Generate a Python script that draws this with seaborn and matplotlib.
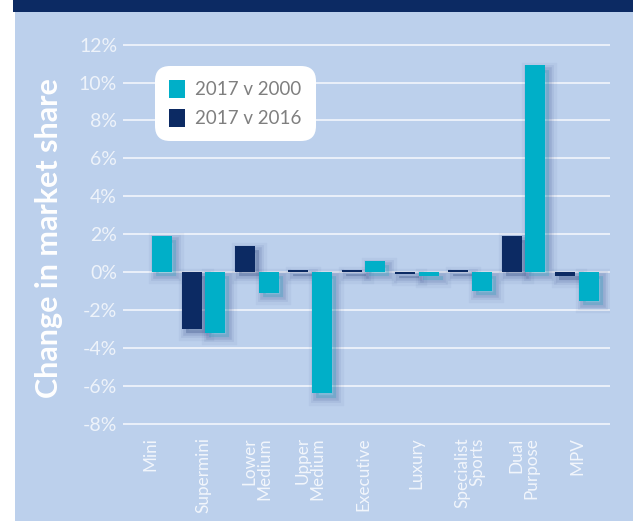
import numpy as np
import pandas as pd
import matplotlib
matplotlib.use("Agg")
import matplotlib.pyplot as plt
import matplotlib.patheffects as pe
from matplotlib.patches import Rectangle, Patch
import seaborn as sns

# data (% change in market share)
segments = ["Mini", "Supermini", "Lower\nMedium", "Upper\nMedium", "Executive",
            "Luxury", "Specialist\nSports", "Dual\nPurpose", "MPV"]
vs_2016 = [np.nan, -3.0, 1.4, 0.1, 0.1, -0.1, 0.1, 1.9, -0.2]
vs_2000 = [1.9, -3.2, -1.1, -6.4, 0.6, -0.2, -1.0, 10.9, -1.5]
series = ["2017 v 2016", "2017 v 2000"]
y_ticks = [-8, -6, -4, -2, 0, 2, 4, 6, 8, 10, 12]

navy = "#0c2a63"
cyan = "#00afc8"
bg = "#bcd0ec"

df = pd.DataFrame({
    "segment": segments * 2,
    "series": [series[0]] * len(segments) + [series[1]] * len(segments),
    "value": vs_2016 + vs_2000,
})

sns.set_style("white")
plt.rcParams["font.family"] = ["Lato", "DejaVu Sans"]

fig = plt.figure(figsize=(6.33, 5.21), dpi=100)
fig.patch.set_facecolor("white")
# page background + top banner
fig.patches.append(Rectangle((15 / 633, 0), 1, 1, transform=fig.transFigure,
                             facecolor=bg, edgecolor="none", zorder=-10))
fig.patches.append(Rectangle((13 / 633, 1 - 12 / 521), 1, 12 / 521,
                             transform=fig.transFigure, facecolor=navy,
                             edgecolor="none", zorder=-9))

ax = fig.add_axes([123.4 / 633, 1 - 424.7 / 521, 486.6 / 633, 381 / 521])
ax.set_facecolor("none")

sns.barplot(data=df, x="segment", y="value", hue="series", hue_order=series,
            palette={series[0]: navy, series[1]: cyan}, width=0.88, gap=0.15,
            saturation=1, legend=False, ax=ax, zorder=3)

# soft drop shadow behind the bars
shadow = [
    pe.Stroke(linewidth=11, foreground="#2a3f80", alpha=0.05, offset=(3, -3)),
    pe.Stroke(linewidth=7, foreground="#2a3f80", alpha=0.08, offset=(3, -3)),
    pe.Stroke(linewidth=4, foreground="#2a3f80", alpha=0.12, offset=(3, -3)),
    pe.Normal(),
]
for bar in ax.patches:
    bar.set_edgecolor("none")
    bar.set_path_effects(shadow)

ax.set_xlim(-0.5, 8.62)
ax.set_ylim(-8.05, 12.05)
ax.set_yticks(y_ticks)
ax.set_yticklabels([f"{t}%" for t in y_ticks])
ax.grid(axis="y", color="#eef3fb", linewidth=1.3, zorder=1)
ax.grid(axis="x", visible=False)
ax.set_axisbelow(True)
for s in ax.spines.values():
    s.set_visible(False)

ax.set_xticks(range(len(segments)))
ax.set_xticklabels(segments, rotation=90, multialignment="right",
                   linespacing=0.95)
ax.set_xticks(np.arange(0.5, 8), minor=True)
ax.tick_params(axis="x", which="major", length=0, pad=9, labelsize=12.3,
               labelcolor="#f2f6fc")
ax.tick_params(axis="x", which="minor", length=22, width=1, color="white",
               direction="out")
ax.tick_params(axis="y", length=0, pad=4.5, labelsize=14, labelcolor="#eef3fa")

ax.set_xlabel("")
ax.set_ylabel("Change in market share", fontsize=22, fontweight="bold",
              color="white")
ax.yaxis.set_label_coords(-0.125, 0.49)

handles = [Patch(facecolor=cyan, edgecolor="none", label="2017 v 2000"),
           Patch(facecolor=navy, edgecolor="none", label="2017 v 2016")]
leg = ax.legend(handles=handles, loc="upper left", bbox_to_anchor=(0.065, 0.9415),
                borderaxespad=0, frameon=True, fancybox=True, fontsize=13.5,
                handlelength=0.85, handleheight=1.1, handletextpad=0.55,
                labelspacing=0.55, borderpad=0.75, framealpha=1)
leg.get_frame().set_edgecolor("none")
leg.get_frame().set_boxstyle("round", pad=0, rounding_size=0.8)
for t in leg.get_texts():
    t.set_color("#7f7f7f")
leg.set_zorder(5)

fig.savefig("out.png", dpi=100)
